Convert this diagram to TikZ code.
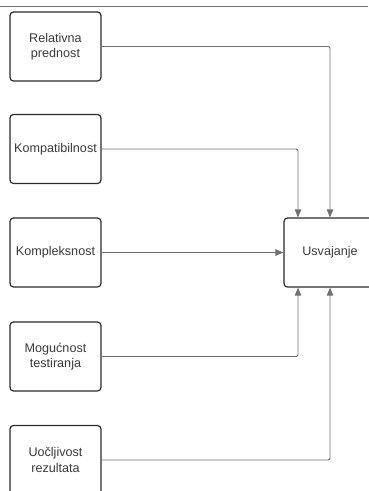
\documentclass[tikz,border=0pt]{standalone}
\usepackage{fontspec}
\setmainfont{Liberation Sans}
\usetikzlibrary{arrows.meta}
\definecolor{linegray}{HTML}{707070}
\definecolor{textgray}{HTML}{3A3A3A}
\definecolor{boxedge}{HTML}{2A2A2A}
\begin{document}
\begin{tikzpicture}[x=1pt,y=-1pt,
  factor/.style={draw=boxedge, line width=1.2pt, rounded corners=3.5pt,
    minimum width=91pt, minimum height=69pt, inner sep=2pt,
    align=center, text=textgray, font=\fontsize{12.6}{15.5}\selectfont},
  link/.style={draw=linegray, line width=0.9pt, rounded corners=2pt,
    -{Triangle[length=8pt,width=6.5pt]}},
  rule/.style={draw=linegray, line width=0.9pt}]
\useasboundingbox (0,0) rectangle (368,491);
% header rule
\coordinate (rl) at (0,6.5);
\coordinate (rr) at (368,6.5);
\draw[rule] (rl) -- (rr);
% factor boxes
\node[factor] (rel) at (55.5,46.5) {Relativna\\prednost};
\node[factor] (kom) at (55.5,149) {Kompatibilnost};
\node[factor] (kpl) at (55.5,252.5) {Kompleksnost};
\node[factor] (mog) at (55.5,356.5) {Mogućnost\\testiranja};
\node[factor] (uoc) at (55.5,460) {Uočljivost\\rezultata};
% target box
\node[factor, minimum width=92pt] (usv) at (330,252.5) {Usvajanje};
% connectors
\draw[link] (rel.east) -| (usv.north);
\draw[link] (kom.east) -| ([xshift=-32pt]usv.north);
\draw[link] (kpl.east) -- (usv.west);
\draw[link] (mog.east) -| ([xshift=-32pt]usv.south);
\draw[link] (uoc.east) -| (usv.south);
\end{tikzpicture}
\end{document}
